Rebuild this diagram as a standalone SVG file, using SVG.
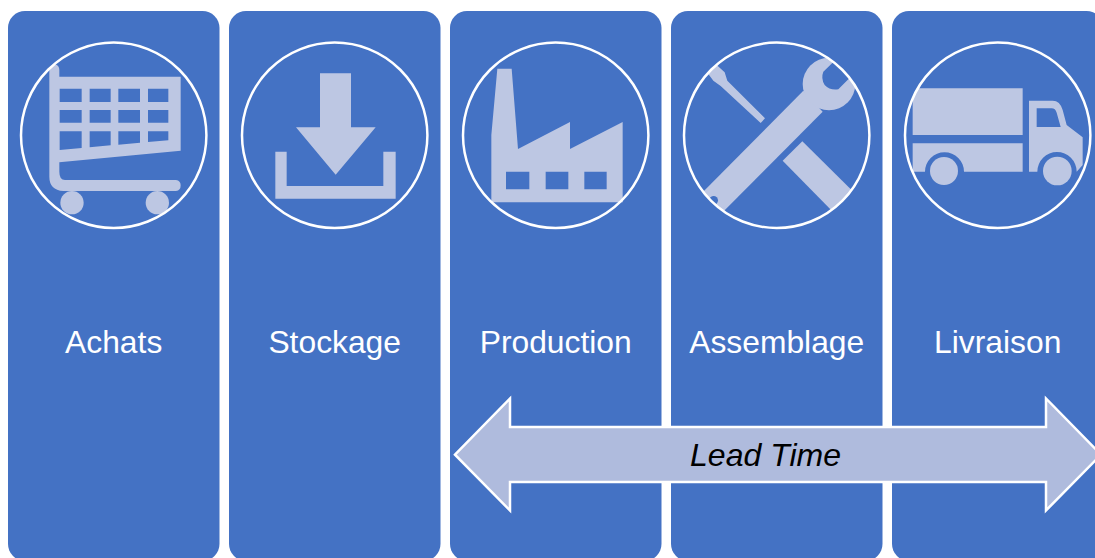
<svg xmlns="http://www.w3.org/2000/svg" width="1095" height="558" viewBox="0 0 1095 558">
<style>
.panel{fill:#4472C4}
.ring{fill:none;stroke:#fff;stroke-width:2.5}
.icon{fill:#BDC7E3;fill-rule:evenodd}
.gap{fill:#4472C4}
.label{font-family:"Liberation Sans",Arial,sans-serif;font-size:31.8px;fill:#fff;text-anchor:middle}
.lead{font-family:"Liberation Sans",Arial,sans-serif;font-size:32px;font-style:italic;fill:#000;text-anchor:middle}
</style>
<defs>
<clipPath id="c1"><circle cx="113.7" cy="135.3" r="92.5"/></clipPath>
<clipPath id="c2"><circle cx="776.7" cy="135.3" r="92.5"/></clipPath>
<clipPath id="c3"><circle cx="997.7" cy="135.3" r="92.5"/></clipPath>
</defs>
<rect width="1095" height="558" fill="#fff"/>
<g id="achats">
<rect class="panel" x="8" y="11" width="211.5" height="550" rx="17"/>
<g clip-path="url(#c1)"><g transform="scale(.33333)">
<path class="icon" d="M148 200Q150 190 165 193Q178 197 178 210V230H542V452L178 487V515Q178 540 195 540H528Q542 542 542 556Q542 572 528 573H190Q148 570 148 530ZM179 266V306H245V266ZM269 266V306H332V266ZM355 266V306H420V266ZM444 266V306H505V266ZM179 330V368H245V330ZM269 330V368H332V330ZM355 330V368H420V330ZM444 330V368H505V330ZM179 394V450L245 444V394ZM269 394V442L332 436V394ZM355 394V434L420 428V394ZM444 394V426L505 421V394Z"/>
<circle class="icon" cx="216" cy="608" r="35"/>
<circle class="icon" cx="472" cy="608" r="35"/>
</g></g>
<circle class="ring" cx="113.7" cy="135.3" r="92.7"/>
<text class="label" x="113.7" y="353">Achats</text>
</g>
<g id="stockage">
<rect class="panel" x="229" y="11" width="211.5" height="550" rx="17"/>
<g transform="scale(.33333)">
<path class="icon" d="M960 220H1053V382H1127L1007 524L888 382H960Z"/>
<path class="icon" d="M826 455H860V558H1150V455H1187V596H826Z"/>
</g>
<circle class="ring" cx="334.7" cy="135.3" r="92.7"/>
<text class="label" x="334.7" y="353">Stockage</text>
</g>
<g id="production">
<rect class="panel" x="450" y="11" width="211.5" height="550" rx="17"/>
<g transform="translate(450 0) scale(.33333)">
<path class="icon" d="M142 206H185L204 447L360 366V447L518 366V607H124V405ZM168 515V568H238V515ZM287 515V568H355V515ZM403 515V568H470V515Z"/>
</g>
<circle class="ring" cx="555.7" cy="135.3" r="92.7"/>
<text class="label" x="555.7" y="353">Production</text>
</g>
<g id="assemblage">
<rect class="panel" x="671" y="11" width="211.5" height="550" rx="17"/>
<g clip-path="url(#c2)"><g transform="translate(450 0) scale(.33333)">
<path class="icon" d="M775 222L800 195L824 217L832 242L945 355L932 369L812 258L790 242Z"/>
<path class="icon" d="M1057 424L1210 575L1150 637L998 482Z"/>
<path class="icon" d="M1060 272L1118 335L815 640L755 580Z"/>
<circle class="icon" cx="1137" cy="252" r="79"/>
<path class="gap" d="M1120 215L1150 186L1190 150L1240 193L1195 238L1165 268Q1140 272 1124 255Q1112 235 1120 215Z"/>
<circle class="gap" cx="791" cy="601" r="13"/>
</g></g>
<circle class="ring" cx="776.7" cy="135.3" r="92.7"/>
<text class="label" x="776.7" y="353">Assemblage</text>
</g>
<g id="livraison">
<rect class="panel" x="892" y="11" width="211.5" height="550" rx="17"/>
<g clip-path="url(#c3)"><g transform="translate(880 0) scale(.33333)">
<path class="icon" d="M98 265H428V405H98Z"/>
<path class="icon" d="M98 430H428V515H252A58 58 0 0 0 135 515H98Z"/>
<circle class="icon" cx="192" cy="513" r="42"/>
<path class="icon" d="M447 302H518Q540 302 548 330L560 375L608 412V495L590 515A59 59 0 0 0 472 515H447ZM470 325V381H542L530 338Q526 325 515 325Z"/>
<circle class="icon" cx="532" cy="513" r="43"/>
</g></g>
<circle class="ring" cx="997.7" cy="135.3" r="92.7"/>
<text class="label" x="997.7" y="353">Livraison</text>
</g>
<g id="connectors">
<g id="lead-time">
<path d="M455 454.7L510 398.5V427H1046V398.5L1101 454.7L1046 510.5V482H510V510.5Z" fill="#AFBBDD" stroke="#fff" stroke-width="2.5"/>
<text class="lead" x="765.5" y="466">Lead Time</text>
</g>
</g>
</svg>
